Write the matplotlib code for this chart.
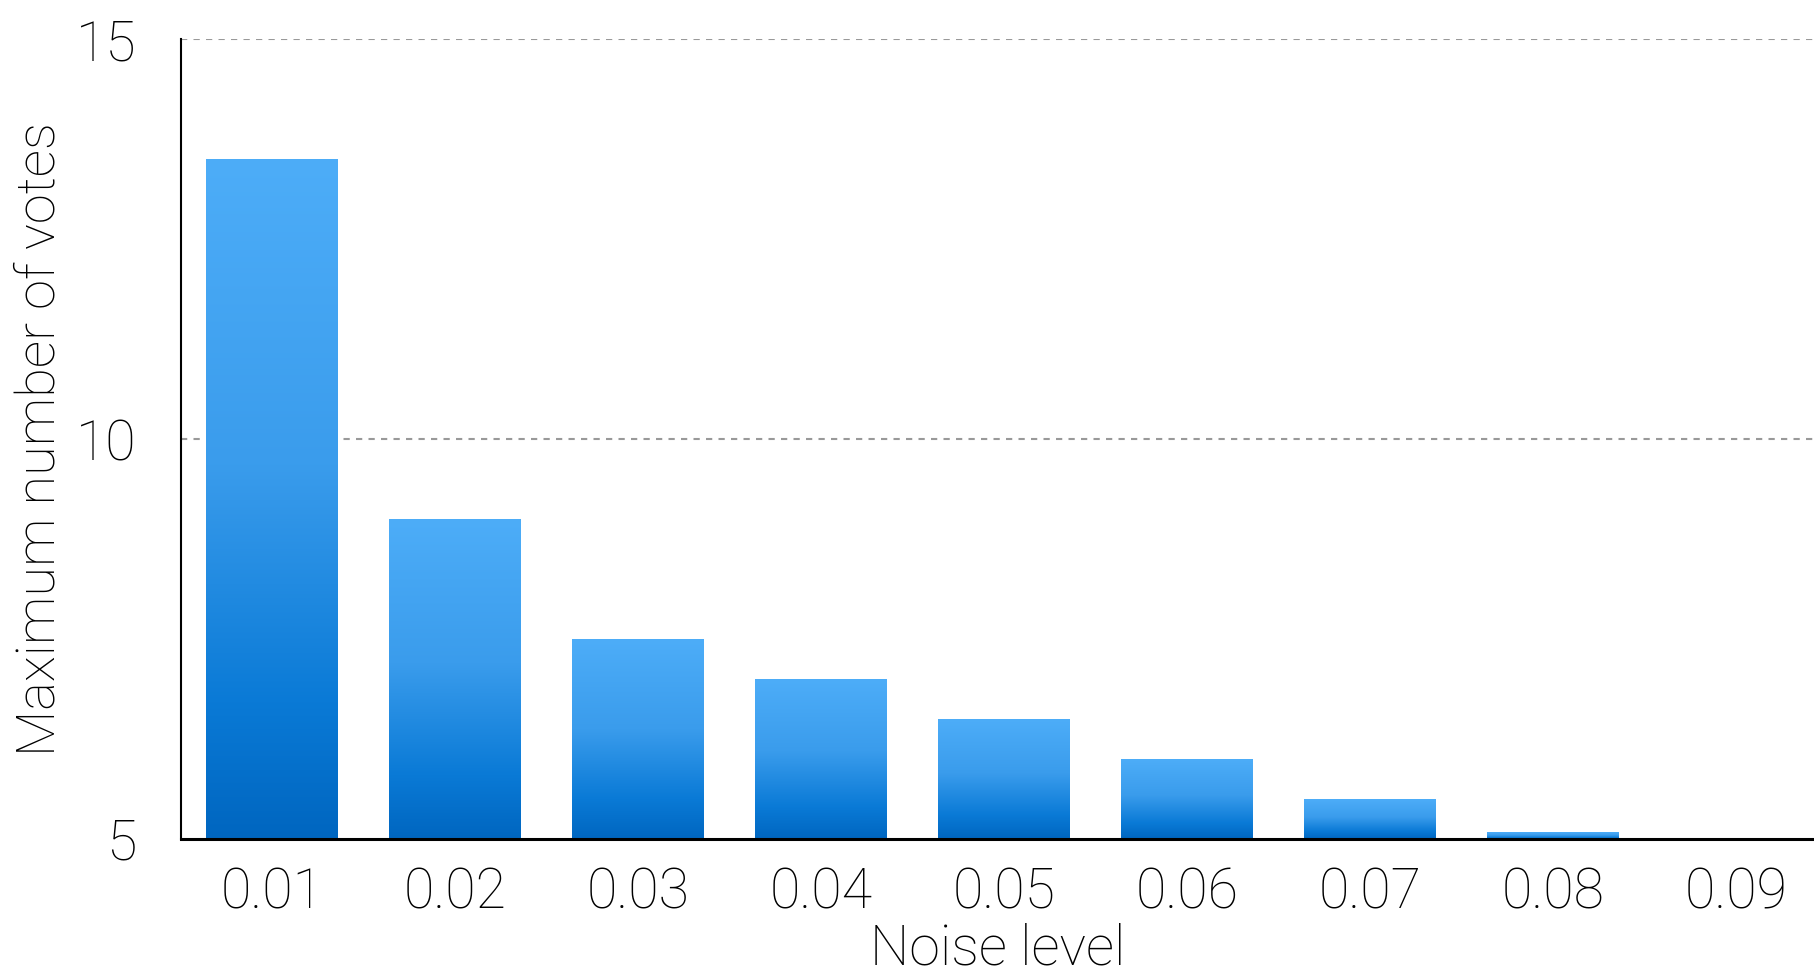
import numpy as np
import matplotlib
matplotlib.use("Agg")
import matplotlib.pyplot as plt
from matplotlib.colors import LinearSegmentedColormap

# Data
noise_levels = ["0.01", "0.02", "0.03", "0.04", "0.05", "0.06", "0.07", "0.08", "0.09"]
max_votes = [13.5, 9.0, 7.5, 7.0, 6.5, 6.0, 5.5, 5.08, 5.0]
y_ticks = [5, 10, 15]

plt.rcParams["font.family"] = ["Roboto", "DejaVu Sans"]

fig = plt.figure(figsize=(18.15, 9.76), dpi=100)
ax = fig.add_axes([0.0995, 0.1404, 0.9005, 0.8192])

base = 5
x = np.arange(len(noise_levels))
width = 0.72

bars = ax.bar(x, np.array(max_votes) - base, bottom=base, width=width,
              color="none", edgecolor="none", zorder=2)

# vertical gradient: dark blue at the bottom, light blue at the top
cmap = LinearSegmentedColormap.from_list(
    "bar_grad",
    [(0.0, "#0066C0"), (0.2, "#0A7AD6"), (0.55, "#3A9CEC"), (1.0, "#4DADF8")])
grad = np.linspace(0, 1, 256).reshape(-1, 1)
for b in bars:
    x0, y0 = b.get_x(), b.get_y()
    x1, y1 = x0 + b.get_width(), y0 + b.get_height()
    if y1 - y0 <= 0:
        continue
    ax.imshow(grad, extent=[x0, x1, y0, y1], origin="lower", aspect="auto",
              cmap=cmap, zorder=2, interpolation="bicubic")

ax.set_xlim(-0.5, 8.43)
ax.set_ylim(5, 15)
ax.set_xticks(x)
ax.set_xticklabels(noise_levels)
ax.set_yticks(y_ticks)

ax.tick_params(axis="both", length=0, labelsize=40)
ax.tick_params(axis="y", pad=32)
ax.tick_params(axis="x", pad=20)
for lbl in ax.get_xticklabels() + ax.get_yticklabels():
    lbl.set_fontweight("light")

ax.set_xlabel("Noise level", fontsize=40, fontweight="light", labelpad=2)
ax.set_ylabel("Maximum number of votes", fontsize=39, fontweight="light", labelpad=7)

ax.spines["top"].set_visible(False)
ax.spines["right"].set_visible(False)
ax.spines["left"].set_linewidth(1.5)
ax.spines["bottom"].set_linewidth(2.2)

for yv in [10, 15]:
    ax.axhline(yv, color="#999999", linestyle=(0, (3, 3)), linewidth=1.5, zorder=1)

fig.savefig("out.png", dpi=100)
